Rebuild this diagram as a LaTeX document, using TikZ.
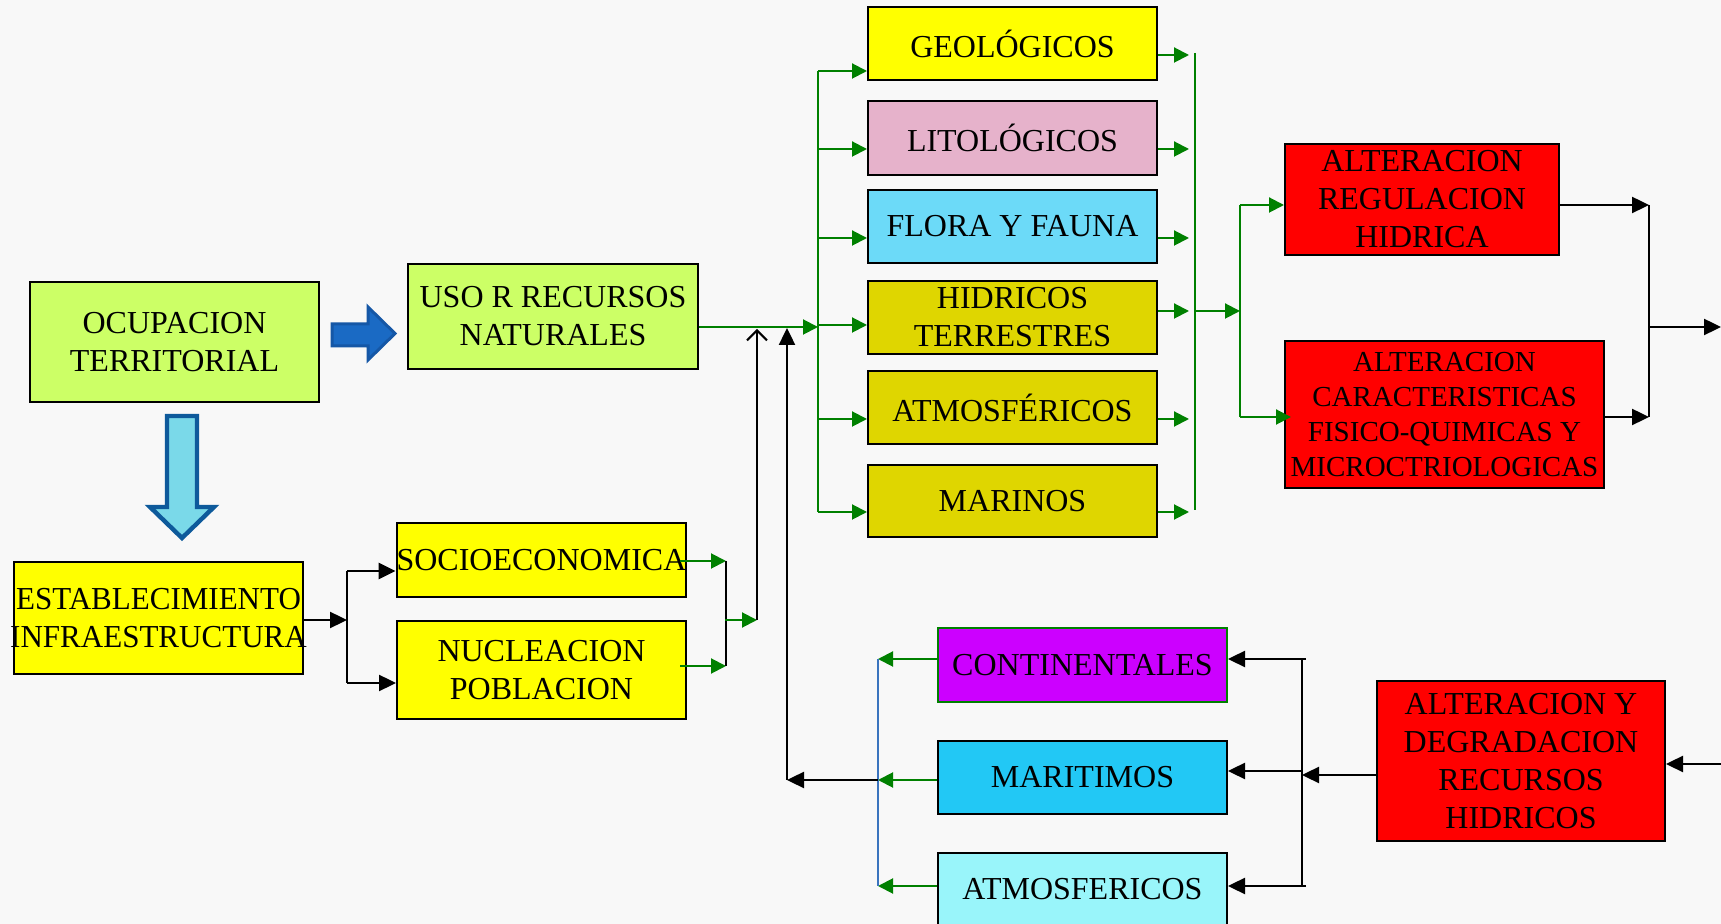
\documentclass[tikz,border=0pt]{standalone}
\usepackage{fontspec}
\usepackage{graphicx}
\setmainfont{Liberation Serif}
\usetikzlibrary{arrows.meta}
\definecolor{bg}{HTML}{F8F8F8}
\definecolor{lime}{HTML}{CCFF66}
\definecolor{yel}{HTML}{FFFF00}
\definecolor{pinkb}{HTML}{E6B2CB}
\definecolor{cyanb}{HTML}{6CDAF8}
\definecolor{olive}{HTML}{DFD600}
\definecolor{redb}{HTML}{FF0000}
\definecolor{purp}{HTML}{CC00FF}
\definecolor{mar}{HTML}{22C8F5}
\definecolor{atm}{HTML}{99F5FA}
\definecolor{gr}{HTML}{008000}
\definecolor{bbus}{HTML}{3A74BE}
\definecolor{bafill}{HTML}{1A6AC4}
\definecolor{badraw}{HTML}{1557A6}
\definecolor{dafill}{HTML}{7AD9E9}
\definecolor{dadraw}{HTML}{0E5A9B}
\tikzset{
  box/.style={draw=black, line width=1pt, inner sep=0pt, align=center,
    font=\fontsize{16}{19}\selectfont},
  garrow/.style={draw=gr, line width=1pt, -{Triangle[length=7.5pt,width=7.5pt]}},
  gline/.style={draw=gr, line width=1pt},
  barrow/.style={draw=black, line width=1.2pt, -{Triangle[length=8.5pt,width=8pt]}},
  bline/.style={draw=black, line width=1.2pt},
}
\begin{document}
\begin{tikzpicture}[x=0.5pt,y=-0.5pt]
\fill[bg] (0,0) rectangle (1721,924);
\useasboundingbox (0,0) rectangle (1721,924);

% block arrows
\filldraw[fill=bafill, draw=badraw, line width=1.5pt, line join=miter]
  (332,324) -- (368,324) -- (368,307) -- (395,333.5) -- (368,360) -- (368,346) -- (332,346) -- cycle;
\filldraw[fill=dafill, draw=dadraw, line width=2.2pt, line join=miter]
  (167,416) -- (197,416) -- (197,507) -- (214,507) -- (182,538) -- (150,507) -- (167,507) -- cycle;

% nodes
\node[box, fill=lime, minimum width=144.5pt, minimum height=60pt] (ocup) at (174.5,342) {OCUPACION\\TERRITORIAL};
\node[box, fill=lime, minimum width=145pt, minimum height=52.5pt] (uso) at (553,316.5) {USO R RECURSOS\\NATURALES};
\node[box, fill=yel, minimum width=144.5pt, minimum height=56pt] (estab) at (158.5,618) {\makebox[0pt]{\scalebox{0.97}[1]{ESTABLECIMIENTO}}\\\makebox[0pt]{\scalebox{0.97}[1]{INFRAESTRUCTURA}}};
\node[box, fill=yel, minimum width=144.5pt, minimum height=37pt] (socio) at (541.5,560) {SOCIOECONOMICA};
\node[box, fill=yel, minimum width=144.5pt, minimum height=49pt] (nucl) at (541.5,670) {NUCLEACION\\POBLACION};

\node[box, fill=yel, minimum width=144.5pt, minimum height=36.5pt] (geo) at (1012.5,43.5) {GEOLÓGICOS};
\node[box, fill=pinkb, minimum width=144.5pt, minimum height=37pt] (lito) at (1012.5,138) {LITOLÓGICOS};
\node[box, fill=cyanb, minimum width=144.5pt, minimum height=36.5pt] (flora) at (1012.5,226.5) {FLORA Y FAUNA};
\node[box, fill=olive, minimum width=144.5pt, minimum height=36.5pt] (hidr) at (1012.5,317.5) {HIDRICOS\\TERRESTRES};
\node[box, fill=olive, minimum width=144.5pt, minimum height=36.5pt] (atmos) at (1012.5,407.5) {ATMOSFÉRICOS};
\node[box, fill=olive, minimum width=144.5pt, minimum height=36pt] (marinos) at (1012.5,501) {MARINOS};

\node[box, fill=redb, minimum width=137pt, minimum height=55.5pt] (alt1) at (1422,199.5) {ALTERACION\\REGULACION\\HIDRICA};
\node[box, fill=redb, minimum width=159.5pt, minimum height=73.5pt, font=\fontsize{14.5}{17.5}\selectfont] (alt2) at (1444.5,414.5) {ALTERACION\\CARACTERISTICAS\\FISICO-QUIMICAS Y\\MICROCTRIOLOGICAS};

\node[box, draw=gr, fill=purp, minimum width=144.5pt, minimum height=37pt] (cont) at (1082.5,665) {CONTINENTALES};
\node[box, fill=mar, minimum width=144.5pt, minimum height=36.5pt] (marit) at (1082.5,777.5) {MARITIMOS};
\node[box, fill=atm, minimum width=144.5pt, minimum height=36pt] (atmos2) at (1082.5,889) {ATMOSFERICOS};
\node[box, fill=redb, minimum width=144pt, minimum height=80pt] (altdeg) at (1521,761) {ALTERACION Y\\DEGRADACION\\RECURSOS\\HIDRICOS};

% USO -> left bus
\coordinate (lbin) at (818,327);
\draw[garrow] (uso.east |- lbin) -- (lbin);
\coordinate (lbt) at (818,71);
\coordinate (lbb) at (818,512);
\draw[gline] (lbt) -- (lbb);
\foreach \n/\yy in {geo/71,lito/149,flora/238,hidr/325,atmos/419,marinos/512}{
  \coordinate (l\n) at (818,\yy);
  \draw[garrow] (l\n) -- (\n.west |- l\n);
}
% right green bus
\foreach \n/\yy in {geo/55,lito/149,flora/238,hidr/311,atmos/419,marinos/512}{
  \coordinate (r\n) at (1189,\yy);
  \draw[garrow] (\n.east |- r\n) -- (r\n);
}
\coordinate (rbt) at (1195,53);
\coordinate (rbb) at (1195,510);
\draw[gline] (rbt) -- (rbb);
\coordinate (rbo) at (1195,311);
\coordinate (gbin) at (1240,311);
\draw[garrow] (rbo) -- (gbin);
\coordinate (g2t) at (1240,205);
\coordinate (g2b) at (1240,417);
\draw[gline] (g2t) -- (g2b);
\draw[garrow] (g2t) -- (alt1.west |- g2t);
\draw[garrow] (g2b) -- ([xshift=3.5pt]alt2.west |- g2b);

% black right bus
\coordinate (kbt) at (1649,205);
\coordinate (kbb) at (1649,417);
\draw[barrow] (alt1.east |- kbt) -- (kbt);
\draw[barrow] (alt2.east |- kbb) -- (kbb);
\draw[bline] (kbt) -- (kbb);
\coordinate (kbo) at (1649,327);
\coordinate (kout) at (1721,327);
\draw[barrow] (kbo) -- (kout);

% bottom right
\coordinate (kin) at (1721,764);
\draw[barrow] (kin) -- (altdeg.east |- kin);
\coordinate (kb2) at (1302,775);
\draw[barrow] (altdeg.west |- kb2) -- (kb2);
\coordinate (kb2t) at (1306,659);
\coordinate (kb2m) at (1302,771);
\coordinate (kb2b) at (1306,886);
\coordinate (kvt) at (1302,659);
\coordinate (kvb) at (1302,886);
\draw[bline] (kvt) -- (kvb);
\draw[barrow] (kb2t) -- (cont.east |- kb2t);
\draw[barrow] (kb2m) -- (marit.east |- kb2m);
\draw[barrow] (kb2b) -- (atmos2.east |- kb2b);

% bottom left green
\foreach \n/\yy in {cont/659,marit/780,atmos2/886}{
  \coordinate (b\n) at (878,\yy);
  \draw[garrow] (\n.west |- b\n) -- (b\n);
}
\draw[draw=bbus, line width=1pt] (bcont) -- (batmos2);
\coordinate (kup) at (787,780);
\coordinate (kupt) at (787,328);
\draw[barrow] (bmarit) -- (kup);
\draw[barrow] (kup) -- (kupt);

% ESTAB -> socio / nucl
\coordinate (e1) at (347,620);
\coordinate (e2) at (347,571);
\coordinate (e3) at (347,683);
\draw[barrow] (estab.east |- e1) -- (e1);
\draw[bline] (e2) -- (e3);
\draw[barrow] (e2) -- (socio.west |- e2);
\draw[barrow] (e3) -- (nucl.west |- e3);

% socio / nucl -> up line
\coordinate (s1) at (726,561);
\coordinate (s2) at (726,666);
\draw[garrow] ([xshift=-3.5pt]socio.east |- s1) -- (s1);
\draw[garrow] ([xshift=-3.5pt]nucl.east |- s2) -- (s2);
\draw[draw=black, line width=1pt] (s1) -- (s2);
\coordinate (s3) at (725,620);
\coordinate (s4) at (757,620);
\coordinate (s5) at (757,329);
\draw[garrow] (s3) -- (s4);
\draw[draw=black, line width=1pt, -{Straight Barb[length=5pt,width=10pt]}] (s4) -- (s5);
\end{tikzpicture}
\end{document}
